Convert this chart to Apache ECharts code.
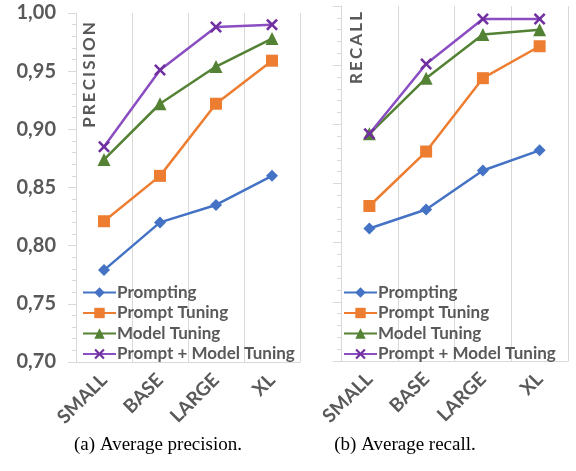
<!DOCTYPE html>
<html>
<head>
<meta charset="utf-8">
<script src="https://cdn.jsdelivr.net/npm/echarts@6/dist/echarts.min.js"></script>
<style>
html,body{margin:0;padding:0;background:#fff;}
#c{width:576px;height:471px;}
</style>
</head>
<body>
<div id="c"></div>
<script>
const categories = ['SMALL', 'BASE', 'LARGE', 'XL'];
const seriesNames = ['Prompting', 'Prompt Tuning', 'Model Tuning', 'Prompt + Model Tuning'];
const yTickLabels = ['0,70', '0,75', '0,80', '0,85', '0,90', '0,95', '1,00'];

const precisionPrompting   = [0.779, 0.820, 0.835, 0.860];
const precisionPromptTune  = [0.821, 0.860, 0.922, 0.959];
const precisionModelTune   = [0.874, 0.922, 0.954, 0.978];
const precisionPromptModel = [0.885, 0.951, 0.988, 0.990];

const recallPrompting   = [0.812, 0.828, 0.861, 0.878];
const recallPromptTune  = [0.831, 0.877, 0.939, 0.966];
const recallModelTune   = [0.892, 0.939, 0.976, 0.980];
const recallPromptModel = [0.892, 0.951, 0.989, 0.989];

const captions = ['(a) Average precision.', '(b) Average recall.'];
const panelTitles = ['PRECISION', 'RECALL'];

const lineColors = ['#4472C4', '#ED7D31', '#548235', '#8A4DC2'];
const markColors = ['#4472C4', '#ED7D31', '#548235', '#7030A0'];
const symbols = ['diamond', 'rect', 'triangle',
  'path://M1.5,0 L5,3.5 L8.5,0 L10,1.5 L6.5,5 L10,8.5 L8.5,10 L5,6.5 L1.5,10 L0,8.5 L3.5,5 L0,1.5 Z'];
const symbolSizes = [12, 12, 13, 12];

const gray = '#595959';
const font = 'Lato';

function spaced(s){ return s.split('').join('\u2009'); }

const chart = echarts.init(document.getElementById('c'), null, {renderer:'canvas'});

function makeX(gi){
  return {
    type:'category', gridIndex:gi, data:categories, boundaryGap:true,
    axisLine:{show:true, lineStyle:{color:'#D9D9D9', width:1}},
    axisTick:{show:false},
    splitLine:{show:true, lineStyle:{color:'#D9D9D9', width:1}},
    axisLabel:{rotate:45, color:gray, fontFamily:font, fontWeight:'bold', fontSize:19, margin:15}
  };
}
function makeY(gi, showLabels){
  return {
    type:'value', gridIndex:gi, min:0.70, max:1.00, interval:0.05,
    axisLine:{show:true, lineStyle:{color:'#D9D9D9', width:1}},
    axisTick:{show:true, length:8, inside:false, lineStyle:{color:'#D9D9D9'}},
    minorTick:{show:true, splitNumber:5, length:4, lineStyle:{color:'#D9D9D9'}},
    splitLine:{show:false},
    axisLabel:{show:showLabels, color:gray, fontFamily:font, fontWeight:'bold', fontSize:20, margin:20,
      formatter:function(v){ const i = Math.round((v-0.70)/0.05); return yTickLabels[i] || ''; }}
  };
}

const panelData = [
  [precisionPrompting, precisionPromptTune, precisionModelTune, precisionPromptModel],
  [recallPrompting, recallPromptTune, recallModelTune, recallPromptModel]
];

const series = [];
panelData.forEach(function(arrs, gi){
  arrs.forEach(function(d, si){
    series.push({
      name: seriesNames[si], type:'line', xAxisIndex:gi, yAxisIndex:gi, data:d,
      symbol: symbols[si], symbolSize: symbolSizes[si], showSymbol:true,
      lineStyle:{color:lineColors[si], width:2.5},
      itemStyle:{color:markColors[si], borderWidth:0},
      z: 2 + si, animation:false
    });
  });
});

function legend(left){
  return {
    orient:'vertical', left:left, top:284, itemWidth:33, itemHeight:13, itemGap:3.5,
    padding:0, data:seriesNames,
    textStyle:{color:gray, fontFamily:font, fontWeight:'bold', fontSize:17, padding:[0,0,0,-4]}
  };
}

chart.setOption({
  animation:false,
  grid:[
    {left:76, right:276, top:13, bottom:109, containLabel:false},
    {left:341, right:8, top:6, bottom:110, containLabel:false}
  ],
  xAxis:[makeX(0), makeX(1)],
  yAxis:[makeY(0, true), makeY(1, false)],
  legend:[legend(82), legend(343)],
  series: series,
  graphic:[
    {type:'text', x:90, y:75, rotation:Math.PI/2, style:{text:spaced(panelTitles[0]), fill:gray, font:'bold 17px Lato', align:'center', verticalAlign:'middle'}},
    {type:'text', x:357, y:48, rotation:Math.PI/2, style:{text:spaced(panelTitles[1]), fill:gray, font:'bold 17px Lato', align:'center', verticalAlign:'middle'}},
    {type:'text', x:158, y:445, style:{text:captions[0], fill:'#000', font:'19px "Liberation Serif"', align:'center', verticalAlign:'middle'}},
    {type:'text', x:405, y:445, style:{text:captions[1], fill:'#000', font:'19px "Liberation Serif"', align:'center', verticalAlign:'middle'}}
  ]
});
</script>
</body>
</html>
